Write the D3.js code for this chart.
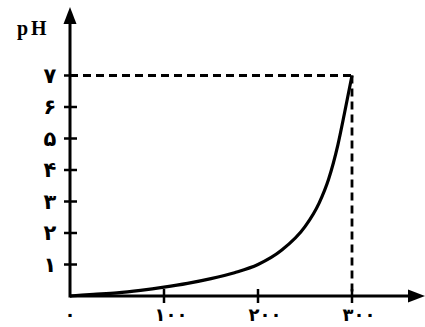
<!DOCTYPE html>
<html>
<head>
<meta charset="utf-8">
<script src="https://cdn.jsdelivr.net/npm/d3@7"></script>
<style>
  html, body { margin: 0; padding: 0; background: #fff; }
  svg { display: block; }
</style>
</head>
<body>
<script>
// Titration-style curve: pH rising with added volume
const volume = [0, 25, 50, 75, 100, 125, 150, 175, 200, 225, 250, 265, 275, 285, 292, 300];
const pH     = [0, 0.05, 0.1, 0.18, 0.28, 0.4, 0.55, 0.74, 1.0, 1.45, 2.2, 2.95, 3.7, 4.8, 5.8, 7.0];
const xTicks = [0, 100, 200, 300];
const xTickLabels = ["۰", "۱۰۰", "۲۰۰", "۳۰۰"];
const yTicks = [1, 2, 3, 4, 5, 6, 7];
const yTickLabels = ["۱", "۲", "۳", "۴", "۵", "۶", "۷"];
const endPoint = {v: 300, p: 7};

const W = 425, H = 327;
const svg = d3.select("body").append("svg").attr("width", W).attr("height", H);

const x = d3.scaleLinear().domain([0, 300]).range([70, 352]);
const y = d3.scaleLinear().domain([0, 7]).range([296, 75.5]);

const ink = "#000";

// dashed guide lines to the end point
svg.append("line")
  .attr("x1", x(0)).attr("x2", x(endPoint.v))
  .attr("y1", y(endPoint.p)).attr("y2", y(endPoint.p))
  .attr("stroke", ink).attr("stroke-width", 2.8).attr("stroke-dasharray", "8,5");
svg.append("line")
  .attr("x1", x(endPoint.v)).attr("x2", x(endPoint.v))
  .attr("y1", y(endPoint.p)).attr("y2", y(0))
  .attr("stroke", ink).attr("stroke-width", 2.8).attr("stroke-dasharray", "8,5");

// curve
const line = d3.line()
  .x((d, i) => x(volume[i]))
  .y((d, i) => y(pH[i]))
  .curve(d3.curveMonotoneX);
svg.append("path")
  .datum(volume)
  .attr("d", line)
  .attr("fill", "none")
  .attr("stroke", ink)
  .attr("stroke-width", 3.2);

// axes
svg.append("line")
  .attr("x1", x(0)).attr("x2", 414)
  .attr("y1", y(0)).attr("y2", y(0))
  .attr("stroke", ink).attr("stroke-width", 3);
svg.append("line")
  .attr("x1", x(0)).attr("x2", x(0))
  .attr("y1", y(0) + 1.5).attr("y2", 20)
  .attr("stroke", ink).attr("stroke-width", 3);

// arrow heads
svg.append("path")
  .attr("d", `M${x(0)},7 L${x(0) - 6.5},24 L${x(0) + 6.5},24 Z`)
  .attr("fill", ink);
svg.append("path")
  .attr("d", `M425,${y(0)} L408,${y(0) - 6.5} L408,${y(0) + 6.5} Z`)
  .attr("fill", ink);

// y ticks
svg.selectAll(".ytick").data(yTicks).enter().append("line")
  .attr("x1", x(0) - 6).attr("x2", x(0) + 7)
  .attr("y1", d => y(d)).attr("y2", d => y(d))
  .attr("stroke", ink).attr("stroke-width", 2.5);

// x ticks
svg.selectAll(".xtick").data(xTicks.slice(1)).enter().append("line")
  .attr("x1", d => x(d)).attr("x2", d => x(d))
  .attr("y1", y(0) - 7).attr("y2", y(0) + 7)
  .attr("stroke", ink).attr("stroke-width", 2.5);

// y tick labels
svg.selectAll(".ylab").data(yTicks).enter().append("text")
  .attr("x", 50).attr("y", d => y(d))
  .attr("dy", "0.35em")
  .attr("text-anchor", "middle")
  .attr("font-family", "DejaVu Sans")
  .attr("font-weight", "bold")
  .attr("font-size", 21)
  .attr("fill", ink)
  .text((d, i) => yTickLabels[i]);

// x tick labels
svg.selectAll(".xlab").data(xTicks).enter().append("text")
  .attr("x", (d, i) => i === 0 ? x(d) : x(d) + 7)
  .attr("y", 321)
  .attr("text-anchor", "middle")
  .attr("font-family", "DejaVu Sans")
  .attr("font-weight", "bold")
  .attr("font-size", 18)
  .attr("letter-spacing", 3)
  .attr("fill", ink)
  .text((d, i) => xTickLabels[i]);

// axis title
svg.append("text")
  .attr("x", 17).attr("y", 35)
  .attr("font-family", "Liberation Serif")
  .attr("font-weight", "bold")
  .attr("font-size", 20)
  .attr("letter-spacing", 3)
  .attr("fill", ink)
  .text("pH");
</script>
</body>
</html>
